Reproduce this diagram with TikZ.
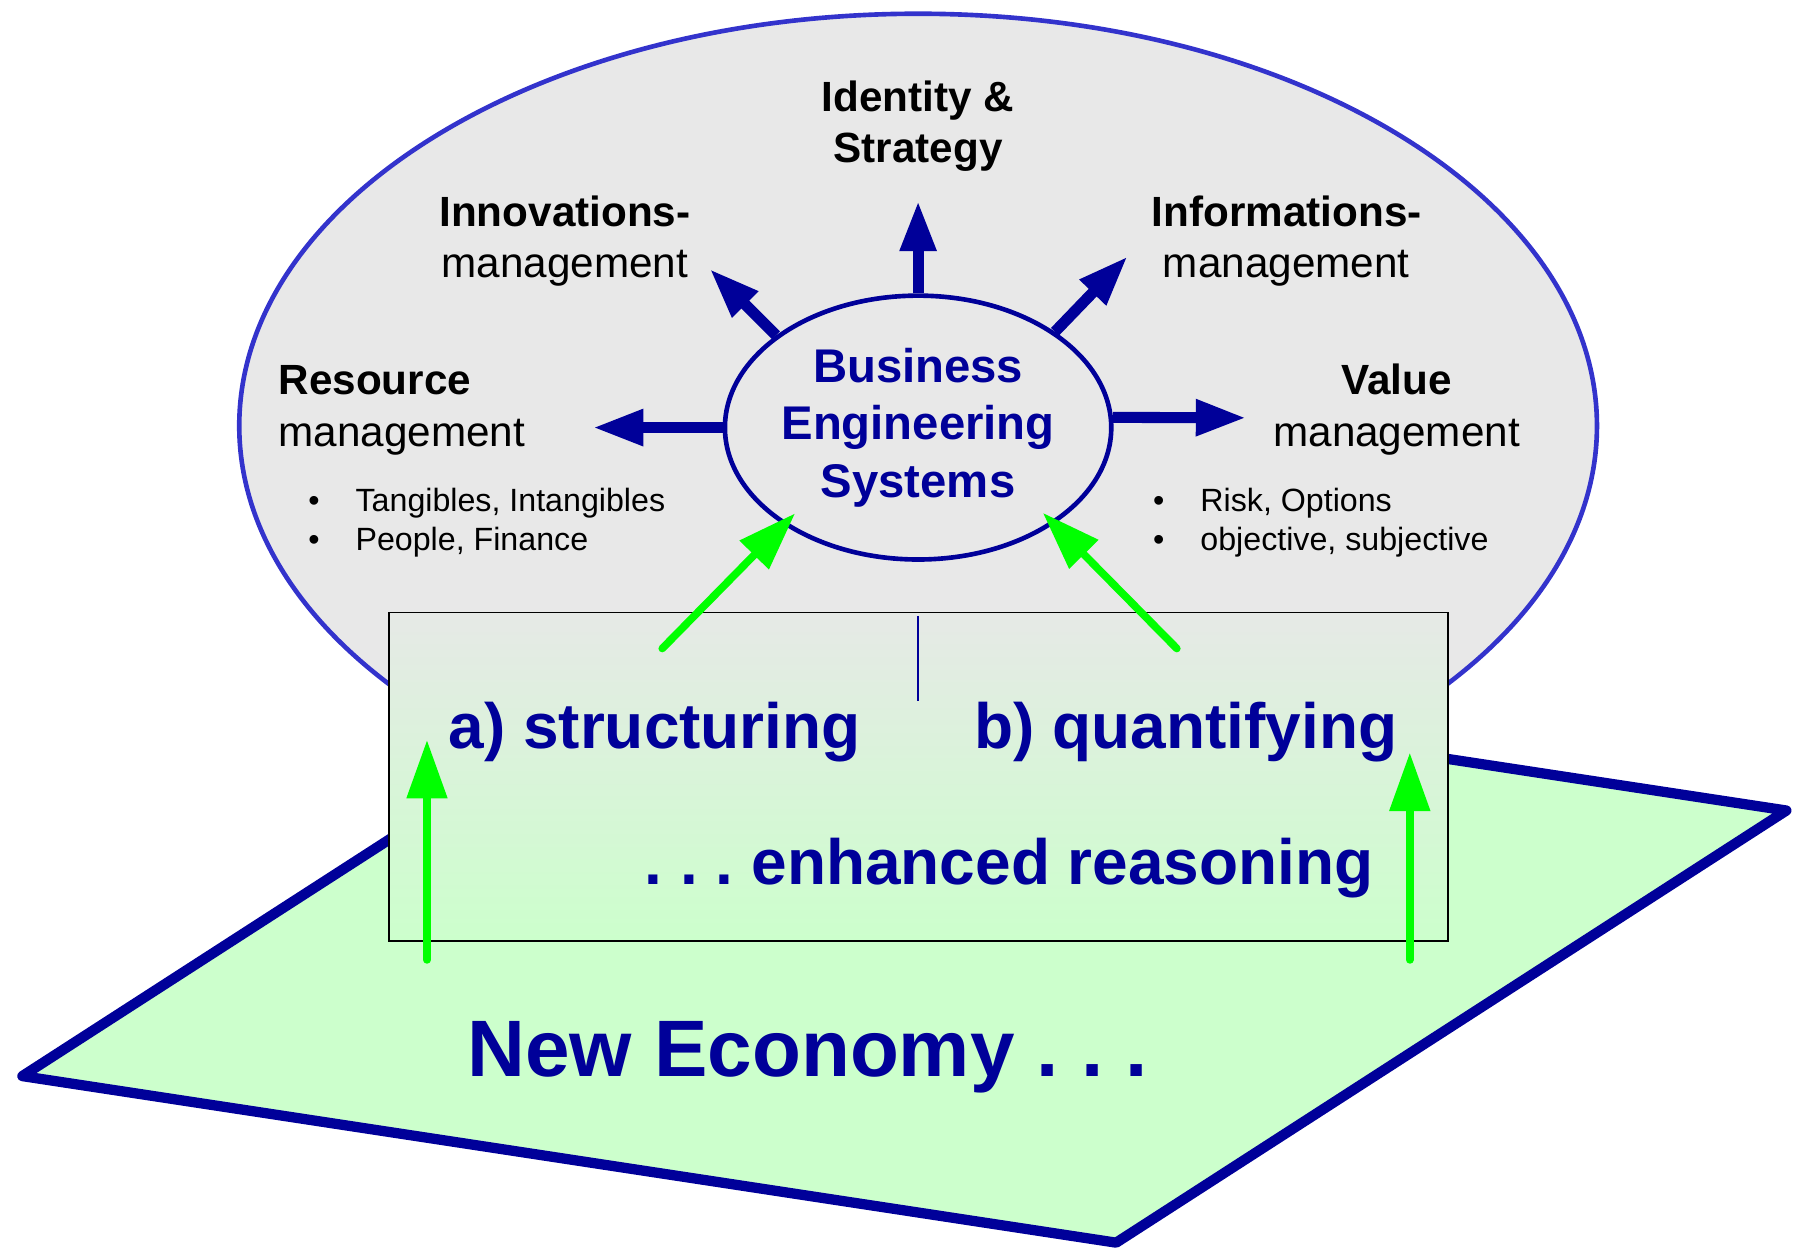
\documentclass[tikz,border=0pt]{standalone}
\usepackage{fontspec}
\setmainfont{Liberation Sans}
\usepackage{tikz}
\usetikzlibrary{shapes,arrows.meta}

\definecolor{navy}{HTML}{000099}
\definecolor{rimblue}{HTML}{3333CC}
\definecolor{paper}{HTML}{E8E8E8}
\definecolor{boxtop}{HTML}{E6E9E6}
\definecolor{mint}{HTML}{CCFFCC}
\definecolor{lime}{HTML}{00FF00}

\newcommand{\bulletbox}{\makebox[23.5pt][l]{\textbullet}}
\frenchspacing

\begin{document}
\begin{tikzpicture}[
	bluearrow/.style={-{Triangle[length=25pt,width=17pt]},navy,line width=5.5pt},
	greenarrow/.style={-{Triangle[length=29pt,width=19.5pt]},lime,line width=3.8pt,line cap=round},
	boldlabel/.style={inner sep=0,anchor=base,font=\fontsize{21}{25}\selectfont\bfseries},
	plainlabel/.style={inner sep=0,anchor=base,font=\fontsize{21}{25}\selectfont},
	bulletlabel/.style={inner sep=0,anchor=base west,font=\fontsize{16}{19}\selectfont},
	bluetext/.style={inner sep=0,anchor=base west,text=navy,font=\fontsize{31.8}{36}\selectfont\bfseries}]

	%    \draw[step=1cm,gray,very thin] (-16,7) grid (15,-14);
	\useasboundingbox (-16.04,7.44) rectangle (15.32,-14.44);

	\draw [fill=paper,draw=rimblue,line width=2.3pt] (0,0) ellipse (11.86 and 7.2);
	\draw [fill=mint,draw=navy,line width=5.1pt,line join=round] (-15.65,-11.36) -- (3.46,-14.27) -- (15.17,-6.72) -- (-3.94,-3.81) -- cycle;
	\shade [top color=boxtop,bottom color=mint,draw=black,line width=0.8pt] (-9.24,-3.26) rectangle (9.26,-9.0);
	\draw [navy,line width=0.8pt] (0,-3.32) -- (0,-4.8);

	\node [ellipse,draw=navy,line width=2.3pt,fill=paper,minimum width=6.58cm,minimum height=4.61cm,inner sep=0,align=center,text=navy,font=\fontsize{23.5}{28.6}\selectfont\bfseries] (bes) at (0,-0.03) {Business\\Engineering\\Systems};

	\coordinate (tipIS) at (0,3.93);
	\coordinate (tipIM) at (-3.64,2.74);
	\coordinate (tipIF) at (3.66,2.96);
	\coordinate (tipRM) at (-5.68,-0.03);
	\coordinate (tipVM) at (5.73,0.14);

	\draw [bluearrow] (bes.north) -- (tipIS);
	\draw [bluearrow] (bes.147) -- (tipIM);
	\draw [bluearrow] (bes.35) -- (tipIF);
	\draw [bluearrow] (bes.west) -- (tipRM);
	\draw [bluearrow] (bes.3) -- (tipVM);

	\node [boldlabel] (identity) at (0,5.50) {Identity \&};
	\node [boldlabel] (strategy) at (0,4.60) {Strategy};
	\node [boldlabel] (innov) at (-6.17,3.48) {Innovations-};
	\node [plainlabel] (innovmgmt) at (-6.17,2.60) {management};
	\node [boldlabel] (inform) at (6.44,3.48) {Informations-};
	\node [plainlabel] (informmgmt) at (6.43,2.60) {management};
	\node [boldlabel,anchor=base west] (resource) at (-11.18,0.54) {Resource};
	\node [plainlabel,anchor=base west] (resourcemgmt) at (-11.18,-0.36) {management};
	\node [boldlabel] (value) at (8.36,0.54) {Value};
	\node [plainlabel] (valuemgmt) at (8.36,-0.36) {management};

	\node [bulletlabel] (tangibles) at (-10.66,-1.5) {\bulletbox Tangibles, Intangibles};
	\node [bulletlabel] (people) at (-10.66,-2.18) {\bulletbox People, Finance};
	\node [bulletlabel] (risk) at (4.10,-1.5) {\bulletbox Risk, Options};
	\node [bulletlabel] (objective) at (4.10,-2.18) {\bulletbox objective, subjective};

	\node [bluetext] (structuring) at (-8.21,-5.63) {a) structuring};
	\node [bluetext] (quantifying) at (0.98,-5.63) {b) quantifying};
	\node [bluetext] (reasoning) at (-4.78,-8.02) {. . . enhanced reasoning};
	\node [bluetext,font=\fontsize{39.8}{48}\selectfont\bfseries] (economy) at (-7.88,-11.36) {New Economy . . .};

	\coordinate (baseS) at (-4.47,-3.89);
	\coordinate (tipS) at (-2.15,-1.53);
	\coordinate (baseQ) at (4.52,-3.89);
	\coordinate (tipQ) at (2.18,-1.52);
	\coordinate (footL) at (-8.58,-9.33);
	\coordinate (headL) at (-8.58,-5.49);
	\coordinate (footR) at (8.59,-9.33);
	\coordinate (headR) at (8.59,-5.71);

	\draw [greenarrow] (baseS) -- (tipS);
	\draw [greenarrow] (baseQ) -- (tipQ);
	\draw [greenarrow] (footL) -- (headL);
	\draw [greenarrow] (footR) -- (headR);

\end{tikzpicture}
\end{document}
